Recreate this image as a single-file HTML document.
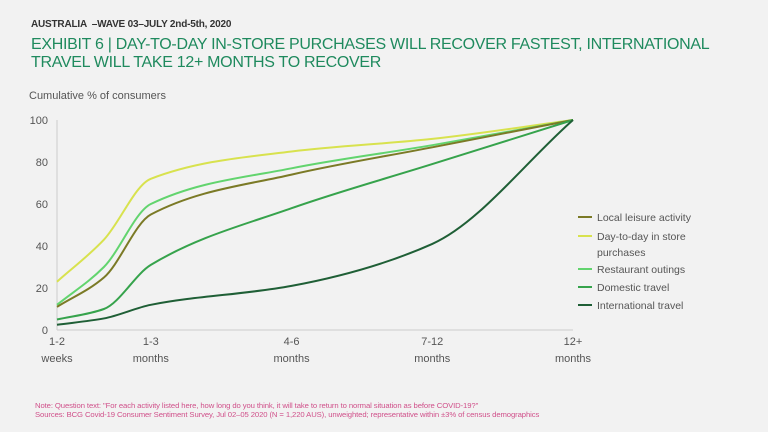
<!DOCTYPE html>
<html><head><meta charset="utf-8"><style>
body{margin:0;background:#f2f2f2;font-family:"Liberation Sans",sans-serif;}
#wrap{position:relative;width:768px;height:432px;overflow:hidden;background:#f2f2f2;}
.t{position:absolute;white-space:nowrap;}
</style></head><body>
<div id="wrap">
<div class="t" style="left:31px;top:19px;font-size:10px;font-weight:bold;color:#333;letter-spacing:-0.2px">AUSTRALIA &nbsp;–WAVE 03–JULY 2nd-5th, 2020</div>
<div class="t" style="left:31px;top:36px;font-size:16px;line-height:18px;color:#1f8a5e;letter-spacing:-0.3px">EXHIBIT 6 | DAY-TO-DAY IN-STORE PURCHASES WILL RECOVER FASTEST, INTERNATIONAL<br>TRAVEL WILL TAKE 12+ MONTHS TO RECOVER</div>
<div class="t" style="left:29px;top:90px;font-size:11px;color:#555">Cumulative % of consumers</div>
<svg id="chart" width="768" height="432" style="position:absolute;left:0;top:0"></svg>
<div class="t" style="left:35px;top:401px;font-size:7.7px;line-height:9px;color:#d0508a;letter-spacing:-0.1px">Note: Question text: "For each activity listed here, how long do you think, it will take to return to normal situation as before COVID-19?"<br>Sources: BCG Covid-19 Consumer Sentiment Survey, Jul 02–05 2020 (N = 1,220 AUS), unweighted; representative within ±3% of census demographics</div>
</div>
<script>
const xPos=[0,1,2,5,8,11];
const tickLabels=[["1-2","weeks",0],["1-3","months",2],["4-6","months",5],["7-12","months",8],["12+","months",11]];
const yTicks=[0,20,40,60,80,100];
const seriesNames=["Local leisure activity","Day-to-day in store purchases","Restaurant outings","Domestic travel","International travel"];
const local=[11,25,55,74,87,100];
const daytoday=[23,43,72,85,91,100];
const restaurant=[12,30,60,77,88,100];
const domestic=[5,10,31,58,79,100];
const international=[2.5,5.5,12,21,41,100];
const colors=["#7b7a26","#d8e24e","#62d46e","#36a34c","#1f5f36"];
const svg=document.getElementById('chart');
const NS="http://www.w3.org/2000/svg";
const X0=57,X1=573,Y0=330,Y1=120;
const xs=v=>X0+(X1-X0)*v/11;
const ys=v=>Y0-(Y0-Y1)*v/100;
function mk(t,a){const e=document.createElementNS(NS,t);for(const k in a)e.setAttribute(k,a[k]);svg.appendChild(e);return e;}
let ax=mk('line',{x1:X0,y1:Y1,x2:X0,y2:Y0,stroke:'#ccc','stroke-width':1});


let bx=mk('line',{x1:X0,y1:Y0,x2:X1,y2:Y0,stroke:'#ccc','stroke-width':1});


yTicks.forEach(v=>{const t=mk('text',{x:48,y:ys(v)+4,'text-anchor':'end','font-size':11,fill:'#555','font-family':'Liberation Sans'});t.textContent=v;

});
tickLabels.forEach(l=>{[0,1].forEach(i=>{const t=mk('text',{x:xs(l[2]),y:Y0+15+i*17,'text-anchor':'middle','font-size':11,fill:'#555','font-family':'Liberation Sans'});t.textContent=l[i];

});});
function path(vals){
  const p=vals.map((v,i)=>[xs(xPos[i]),ys(v)]);const n=p.length;
  const s=[];for(let i=0;i<n-1;i++)s.push((p[i+1][1]-p[i][1])/(p[i+1][0]-p[i][0]));
  const m=[];for(let i=0;i<n;i++){
    if(i===0)m.push(s[0]);else if(i===n-1)m.push(s[n-2]);
    else{ if(s[i-1]*s[i]<=0)m.push(0);else{const h0=p[i][0]-p[i-1][0],h1=p[i+1][0]-p[i][0];const w1=2*h1+h0,w2=h1+2*h0;m.push((w1+w2)/(w1/s[i-1]+w2/s[i]));}}
  }
  let d='M'+p[0][0]+','+p[0][1];
  for(let i=0;i<n-1;i++){const h=(p[i+1][0]-p[i][0])/3;
    d+=' C'+(p[i][0]+h)+','+(p[i][1]+m[i]*h)+' '+(p[i+1][0]-h)+','+(p[i+1][1]-m[i+1]*h)+' '+p[i+1][0]+','+p[i+1][1];}
  return d;}
const all=[local,daytoday,restaurant,domestic,international];
const order=[1,2,0,3,4];
order.forEach(i=>{const l=mk('path',{d:path(all[i]),fill:'none',stroke:colors[i],'stroke-width':2});

});
const legY=[217,236,269,287,305];
seriesNames.forEach((n,i)=>{const l=mk('line',{x1:578,x2:592,y1:legY[i],y2:legY[i],stroke:colors[i],'stroke-width':2});


const t=mk('text',{x:597,y:legY[i]+4,'font-size':10.5,fill:'#555','font-family':'Liberation Sans'});


if(i===1){t.innerHTML='<tspan x="597">Day-to-day in store</tspan><tspan x="597" dy="16">purchases</tspan>';}else t.textContent=n;});
</script>
</body></html>
